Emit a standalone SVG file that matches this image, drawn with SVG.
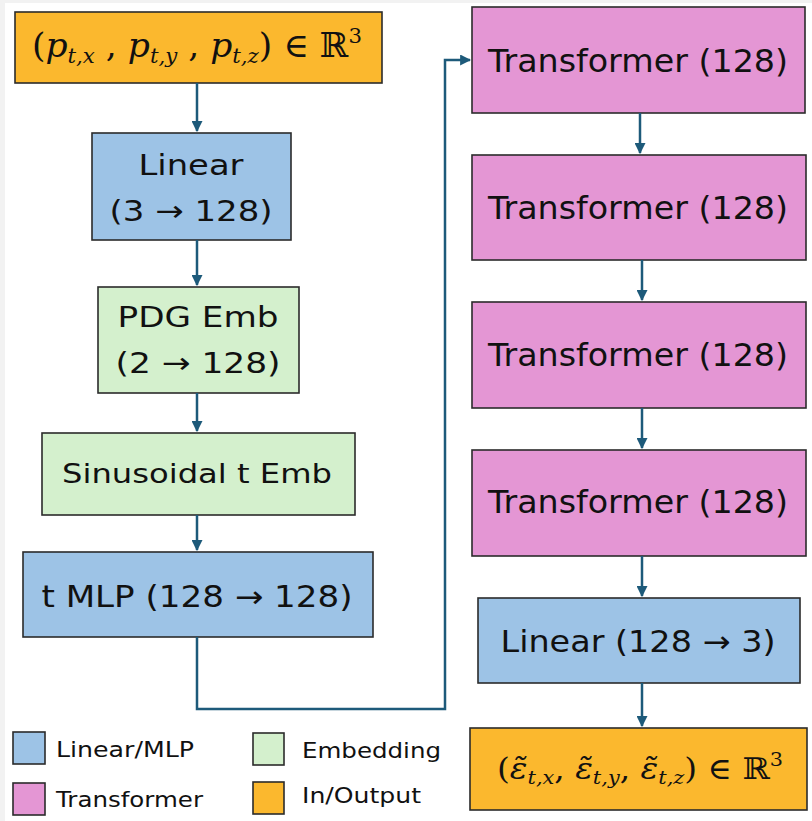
<svg xmlns="http://www.w3.org/2000/svg" width="812" height="821" viewBox="0 0 812 821">
<defs>
<marker id="ah" viewBox="0 0 10 10" refX="9" refY="5" markerWidth="4.4" markerHeight="4.4" orient="auto" markerUnits="strokeWidth">
<path d="M0,0 L10,5 L0,10 z" fill="#1d5a7a"/>
</marker>
<style>
.box{stroke:#2b2b2b;stroke-width:1.6}
.lin{fill:#9dc3e6}
.emb{fill:#d4f0cd}
.tr{fill:#e496d4}
.io{fill:#fbb82e}
.t{font-family:"DejaVu Sans","Liberation Sans",sans-serif;fill:#111;text-anchor:middle}
.m{font-family:"DejaVu Serif","Liberation Serif",serif;fill:#111;text-anchor:middle}
.lg{font-family:"DejaVu Sans","Liberation Sans",sans-serif;fill:#111;font-size:22px}
.c{fill:none;stroke:#1d5a7a;stroke-width:2.5}
</style>
</defs>
<rect x="0" y="0" width="812" height="821" fill="#ffffff"/>
<rect x="0" y="0" width="5" height="821" fill="#f2f2f2"/>
<rect x="0" y="0" width="812" height="3" fill="#f2f2f2"/>

<g id="input">
<rect class="box io" x="15" y="12" width="367" height="71"/>
<text class="m" x="197" y="57" font-size="34" textLength="330" lengthAdjust="spacingAndGlyphs">(<tspan font-style="italic">p</tspan><tspan font-style="italic" font-size="21" dy="6">t,x</tspan><tspan dy="-6"> , </tspan><tspan font-style="italic">p</tspan><tspan font-style="italic" font-size="21" dy="6">t,y</tspan><tspan dy="-6"> , </tspan><tspan font-style="italic">p</tspan><tspan font-style="italic" font-size="21" dy="6">t,z</tspan><tspan dy="-6">) ∈ ℝ</tspan><tspan font-size="21" dy="-14">3</tspan></text>
</g>

<g id="linear_in">
<rect class="box lin" x="92" y="133" width="199" height="107"/>
<text class="t" x="191" y="175" font-size="29" textLength="105" lengthAdjust="spacingAndGlyphs">Linear</text>
<text class="t" x="191" y="221" font-size="29" textLength="163" lengthAdjust="spacingAndGlyphs">(3 → 128)</text>
</g>

<g id="pdg_emb">
<rect class="box emb" x="98" y="287" width="201" height="106"/>
<text class="t" x="198" y="327" font-size="29" textLength="161" lengthAdjust="spacingAndGlyphs">PDG Emb</text>
<text class="t" x="198" y="373" font-size="29" textLength="165" lengthAdjust="spacingAndGlyphs">(2 → 128)</text>
</g>

<g id="sin_emb">
<rect class="box emb" x="42" y="433" width="313" height="82"/>
<text class="t" x="197" y="483" font-size="27" textLength="270" lengthAdjust="spacingAndGlyphs">Sinusoidal t Emb</text>
</g>

<g id="t_mlp">
<rect class="box lin" x="23" y="552" width="350" height="85"/>
<text class="t" x="197" y="607" font-size="30" textLength="311" lengthAdjust="spacingAndGlyphs">t MLP (128 → 128)</text>
</g>

<g id="tr1">
<rect class="box tr" x="472" y="7" width="333" height="106"/>
<text class="t" x="638" y="72" font-size="32" textLength="300" lengthAdjust="spacingAndGlyphs">Transformer (128)</text>
</g>
<g id="tr2">
<rect class="box tr" x="472" y="155" width="334" height="105"/>
<text class="t" x="638" y="219" font-size="32" textLength="300" lengthAdjust="spacingAndGlyphs">Transformer (128)</text>
</g>
<g id="tr3">
<rect class="box tr" x="472" y="302" width="334" height="106"/>
<text class="t" x="638" y="366" font-size="32" textLength="300" lengthAdjust="spacingAndGlyphs">Transformer (128)</text>
</g>
<g id="tr4">
<rect class="box tr" x="472" y="450" width="334" height="106"/>
<text class="t" x="638" y="513" font-size="32" textLength="300" lengthAdjust="spacingAndGlyphs">Transformer (128)</text>
</g>

<g id="linear_out">
<rect class="box lin" x="478" y="598" width="322" height="85"/>
<text class="t" x="638" y="652" font-size="30" textLength="275" lengthAdjust="spacingAndGlyphs">Linear (128 → 3)</text>
</g>

<g id="output">
<rect class="box io" x="470" y="728" width="337" height="82"/>
<text class="m" x="640" y="779" font-size="30" textLength="286" lengthAdjust="spacingAndGlyphs">(<tspan font-style="italic">ε̃</tspan><tspan font-style="italic" font-size="19" dy="5">t,x</tspan><tspan dy="-5">, </tspan><tspan font-style="italic">ε̃</tspan><tspan font-style="italic" font-size="19" dy="5">t,y</tspan><tspan dy="-5">, </tspan><tspan font-style="italic">ε̃</tspan><tspan font-style="italic" font-size="19" dy="5">t,z</tspan><tspan dy="-5">) ∈ ℝ</tspan><tspan font-size="19" dy="-13">3</tspan></text>
</g>

<g id="connectors">
<path class="c" d="M197,83 V131" marker-end="url(#ah)"/>
<path class="c" d="M197,240 V285" marker-end="url(#ah)"/>
<path class="c" d="M197,393 V431" marker-end="url(#ah)"/>
<path class="c" d="M197,515 V550" marker-end="url(#ah)"/>
<path class="c" d="M197,637 V709 H445 V60 H470" marker-end="url(#ah)"/>
<path class="c" d="M640,113 V153" marker-end="url(#ah)"/>
<path class="c" d="M642,260 V300" marker-end="url(#ah)"/>
<path class="c" d="M642,408 V448" marker-end="url(#ah)"/>
<path class="c" d="M642,556 V596" marker-end="url(#ah)"/>
<path class="c" d="M642,683 V726" marker-end="url(#ah)"/>
</g>

<g id="legend">
<rect class="box lin" x="13" y="732" width="32" height="32"/>
<text class="lg" x="56" y="757" textLength="138" lengthAdjust="spacingAndGlyphs">Linear/MLP</text>
<rect class="box tr" x="13" y="783" width="32" height="32"/>
<text class="lg" x="56" y="807" textLength="147" lengthAdjust="spacingAndGlyphs">Transformer</text>
<rect class="box emb" x="253" y="733" width="31" height="32"/>
<text class="lg" x="302" y="758" textLength="139" lengthAdjust="spacingAndGlyphs">Embedding</text>
<rect class="box io" x="253" y="782" width="31" height="32"/>
<text class="lg" x="302" y="803" textLength="119" lengthAdjust="spacingAndGlyphs">In/Output</text>
</g>
</svg>
